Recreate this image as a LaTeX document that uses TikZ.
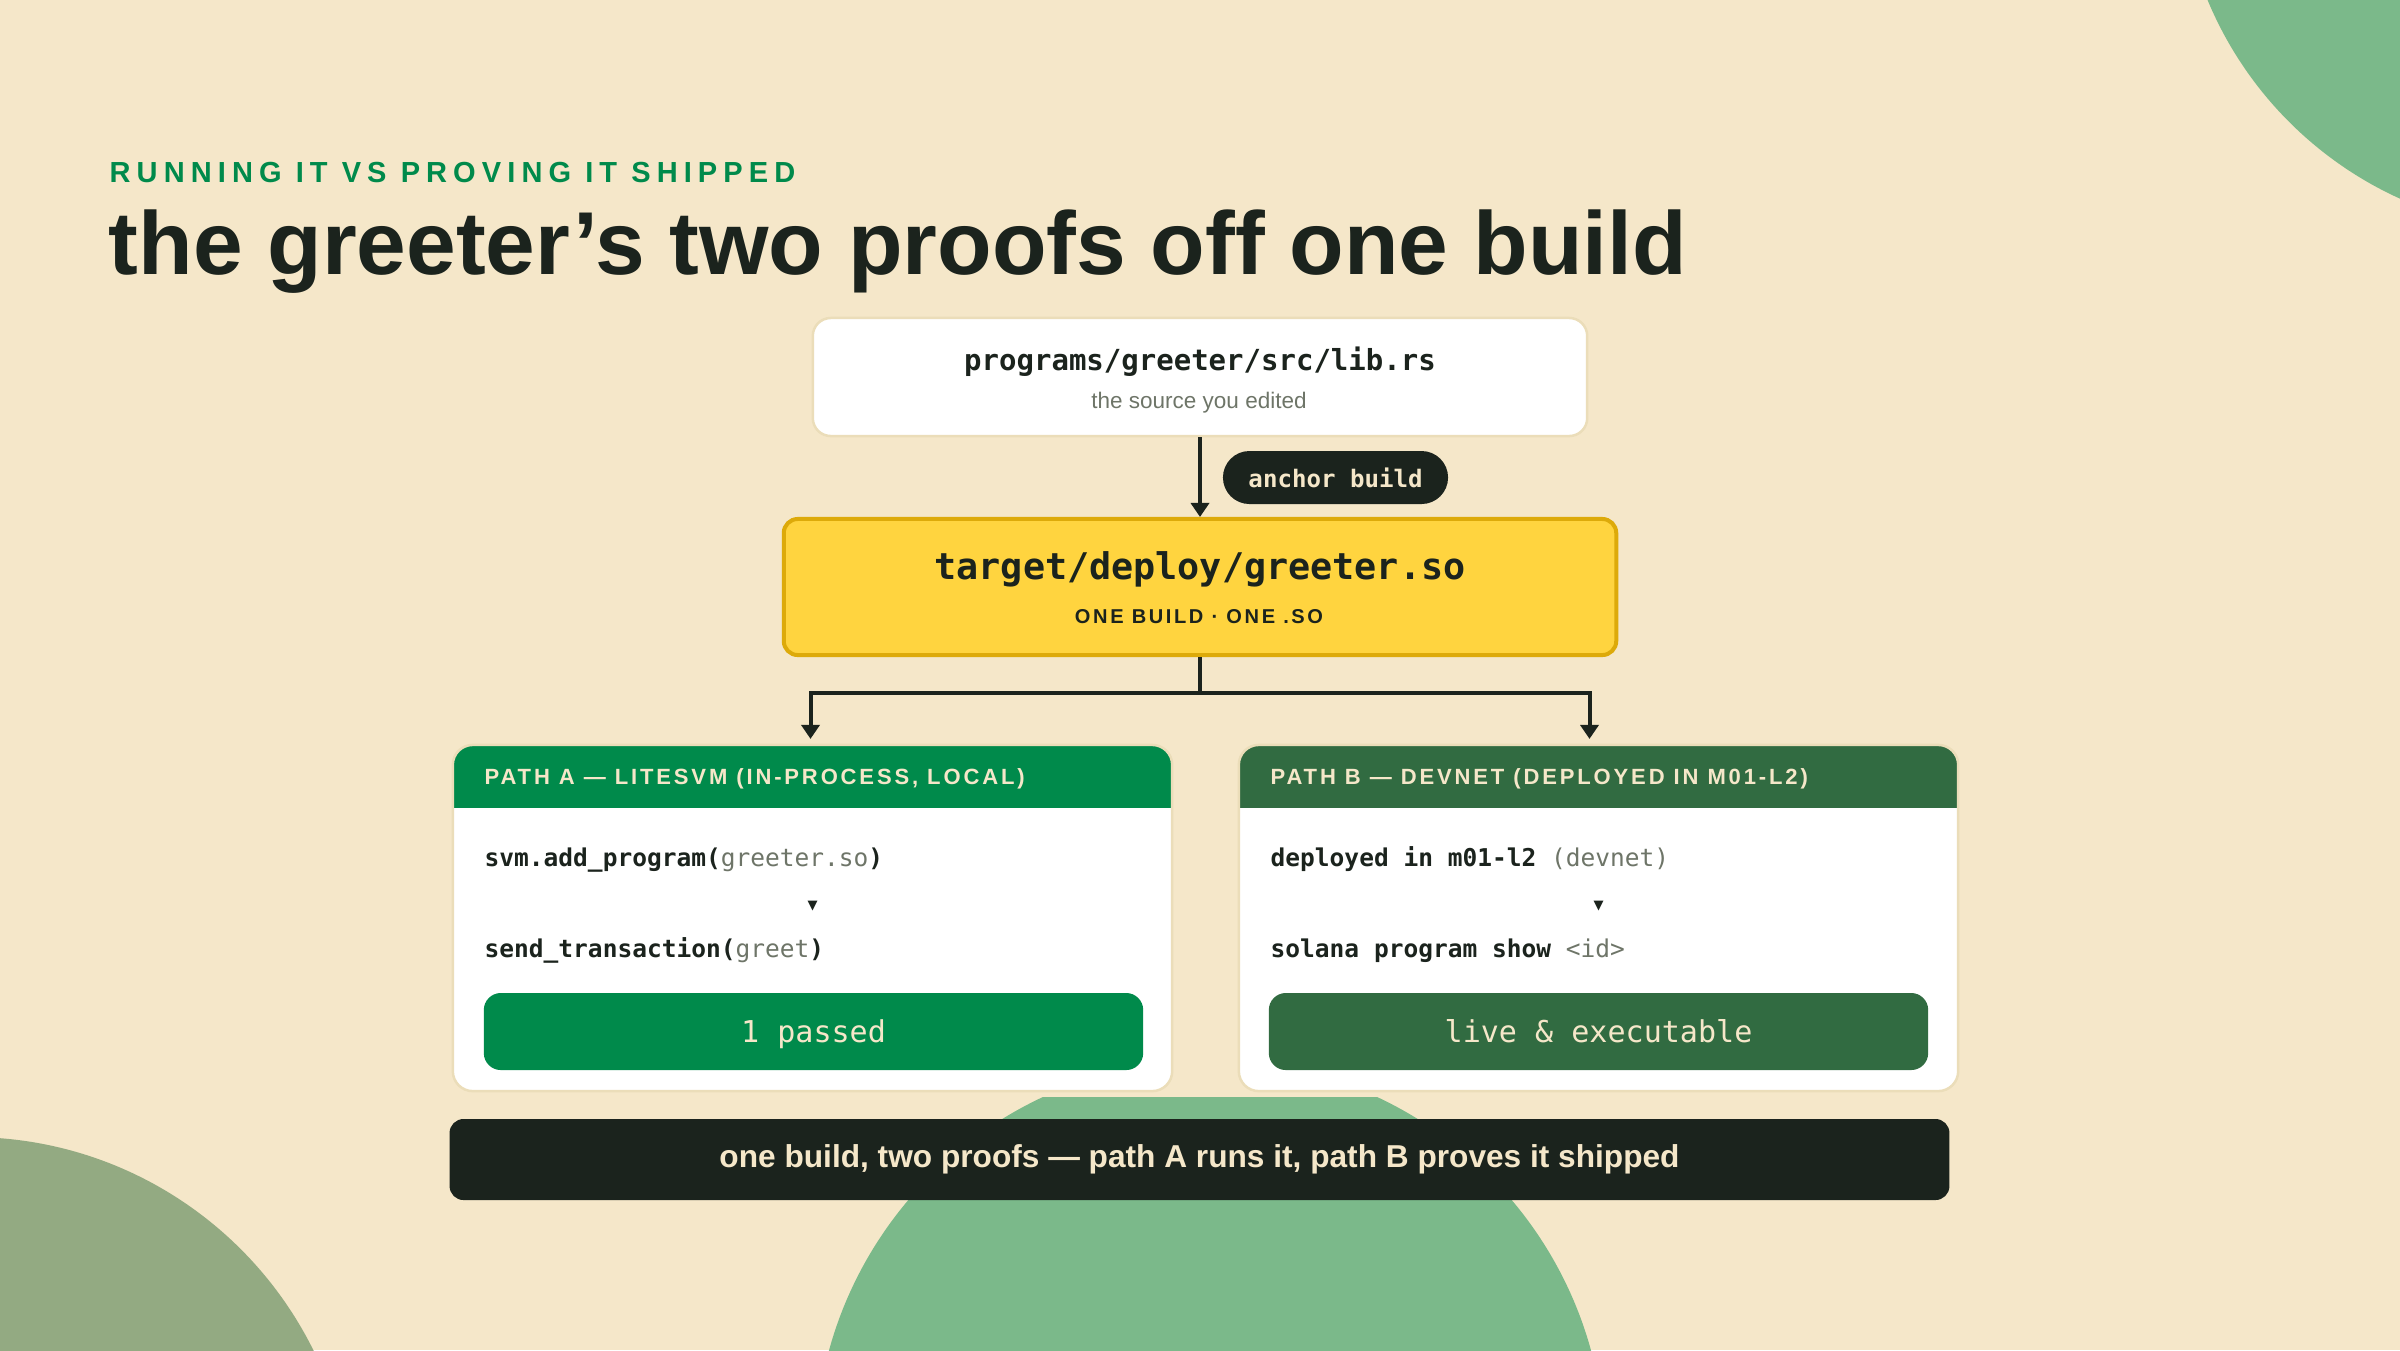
\documentclass[tikz,border=0pt]{standalone}
\usepackage{fontspec}
\setmainfont{Liberation Sans}
\newfontfamily\codefont{DejaVu Sans Mono}
\newfontfamily\capsfont[LetterSpace=13]{Liberation Sans}
\newfontfamily\kickerfont[LetterSpace=21]{Liberation Sans}
\newfontfamily\symfont{DejaVu Sans}
\usetikzlibrary{calc}
\usetikzlibrary{arrows.meta}
\definecolor{pagebg}{HTML}{F5E7C9}
\definecolor{ink}{HTML}{1B231D}
\definecolor{leafgreen}{HTML}{008A4B}
\definecolor{pinegreen}{HTML}{316B41}
\definecolor{sunbox}{HTML}{FFD43F}
\definecolor{sunedge}{HTML}{DDAA0A}
\definecolor{blobgreen}{HTML}{7BB98A}
\definecolor{blobolive}{HTML}{93AA82}
\definecolor{cardedge}{HTML}{EBDDB9}
\definecolor{muted}{HTML}{6E7568}
\definecolor{cream}{HTML}{F5E7C9}

\begin{document}
\begin{tikzpicture}[x=0.01cm,y=-0.01cm,
txt/.style = {inner sep=0, anchor=base west, text=ink},
ctxt/.style = {inner sep=0, anchor=base, text=ink},
code/.style = {font=\codefont\bfseries\fontsize{6.97}{8}\selectfont},
wire/.style = {draw=ink, line width=0.04cm},
flow/.style = {wire, -{Triangle[length=0.14cm,width=0.18cm]}},
card/.style = {fill=white, inner sep=0, outer sep=0, rounded corners=0.2cm,
  minimum width=7.19cm, minimum height=3.46cm},
cardrim/.style = {draw=cardedge, line width=0.025cm, rounded corners=0.2cm},
head/.style = {txt, text=cream, font=\capsfont\bfseries\fontsize{6.26}{8}\selectfont},
btn/.style = {inner sep=0, minimum width=6.59cm, minimum height=0.77cm,
  text height=0.25cm, text depth=0.04cm,
  rounded corners=0.17cm, text=cream, font=\codefont\fontsize{8.55}{10}\selectfont}
]

\useasboundingbox (0,0) rectangle (2400,1350);
\clip (0,0) rectangle (2400,1350);
\fill[pagebg] (0,0) rectangle (2400,1350);

% blobs behind everything
\fill[blobgreen] (2555,-144) circle[radius=376];
\fill[blobolive] (-30,1520) circle[radius=383];
\begin{scope}
  \clip (0,1097) rectangle (2400,1350);
  \fill[blobgreen] (1210,1455) circle[radius=395];
\end{scope}

% heading
\node[txt, text=leafgreen, font=\kickerfont\bfseries\fontsize{8.25}{10}\selectfont] (kicker) at (109,182)
  {RUNNING IT VS PROVING IT SHIPPED};
\node[txt, font=\bfseries\fontsize{25.4}{30}\selectfont] (title) at (108,274)
  {the greeter's two proofs off one build};

% source and build output
\node[fill=white, draw=cardedge, line width=0.025cm, rounded corners=0.18cm,
  minimum width=7.74cm, minimum height=1.18cm] (src) at (1200,377) {};
\node[ctxt, font=\codefont\bfseries\fontsize{8.25}{10}\selectfont] (srcpath) at (1200,370)
  {programs/greeter/src/lib.rs};
\node[ctxt, text=muted, font=\fontsize{6.4}{8}\selectfont] (srcnote) at (1199,408)
  {the source you edited};

\node[fill=sunbox, draw=sunedge, line width=0.04cm, rounded corners=0.14cm,
  minimum width=8.32cm, minimum height=1.36cm] (so) at (1200,587) {};
\node[ctxt, font=\codefont\bfseries\fontsize{10.45}{12}\selectfont] (sopath) at (1200,579)
  {target/deploy/greeter.so};
\node[ctxt, font=\capsfont\bfseries\fontsize{5.7}{7}\selectfont] (sonote) at (1199,623)
  {ONE BUILD · ONE .SO};

\draw[flow] (src) -- (so);
\node[fill=ink, text=cream, rounded corners=0.265cm, inner sep=0,
  minimum width=2.25cm, minimum height=0.53cm,
  font=\codefont\bfseries\fontsize{6.85}{8}\selectfont] (build) at (1335.5,477.5) {anchor build};

% the two paths
\foreach \card/\cx/\hue in {pathA/812.5/leafgreen, pathB/1598.5/pinegreen} {
  \node[card] (\card) at (\cx,918) {};
  \begin{scope}
    \clip[rounded corners=0.2cm] (\card.south west) rectangle (\card.north east);
    \fill[\hue] (\card.north west) rectangle ($(\card.north east)+(0,63)$);
  \end{scope}
  \draw[cardrim] (\card.south west) rectangle (\card.north east);
}

\coordinate (fork) at (1200,693);
\draw[wire] (so) -- (fork);
\draw[flow, shorten >=0.06cm] (fork) -| ([xshift=-0.02cm]pathA.north);
\draw[flow, shorten >=0.06cm] (fork) -| ([xshift=-0.09cm]pathB.north);

\node[head] (headA) at (484,784) {PATH A — LITESVM (IN-PROCESS, LOCAL)};
\node[txt, code] (addprog) at (484,866) {svm.add\_program({\mdseries\color{muted}greeter.so})};
\node[ctxt, font=\symfont\fontsize{3.7}{4}\selectfont] (stepA) at (812.5,909) {▼};
\node[txt, code] (sendtx) at (484,957) {send\_transaction({\mdseries\color{muted}greet})};
\node[btn, fill=leafgreen] (passA) at (813.5,1031.5) {1 passed};

\node[head] (headB) at (1270,784) {PATH B — DEVNET (DEPLOYED IN M01-L2)};
\node[txt, code] (deployed) at (1270,866) {deployed in m01-l2 {\mdseries\color{muted}(devnet)}};
\node[ctxt, font=\symfont\fontsize{3.7}{4}\selectfont] (stepB) at (1598.5,909) {▼};
\node[txt, code] (show) at (1270,957) {solana program show {\mdseries\color{muted}<id>}};
\node[btn, fill=pinegreen] (liveB) at (1598.5,1031.5) {live \& executable};

% takeaway bar
\node[fill=ink, text=cream, rounded corners=0.14cm, inner sep=0,
  minimum width=14.99cm, minimum height=0.81cm,
  font=\bfseries\fontsize{9}{10}\selectfont] (footer) at (1199.5,1159.5)
  {one build, two proofs — path A runs it, path B proves it shipped};

\end{tikzpicture}
\end{document}
